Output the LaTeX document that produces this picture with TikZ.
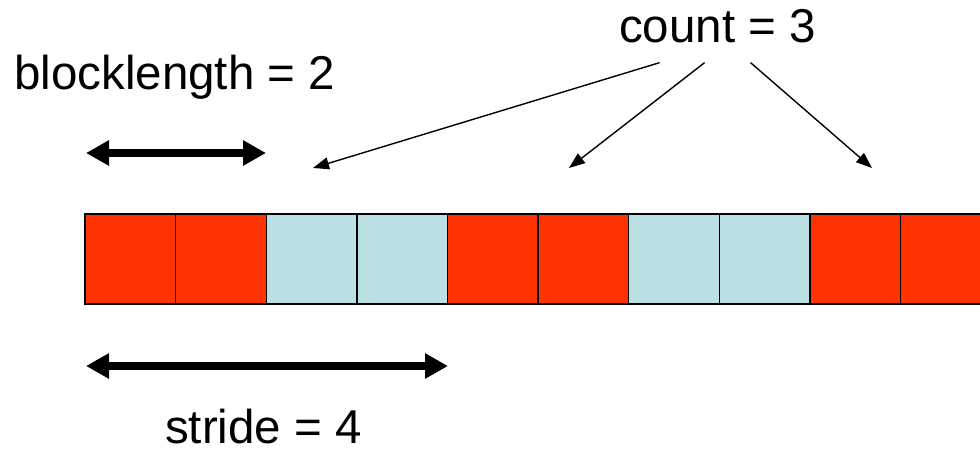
\documentclass[tikz,border=0pt]{standalone}
\usepackage{fontspec}
\setmainfont{Liberation Sans}
\usetikzlibrary{arrows.meta}
\definecolor{cellred}{HTML}{FF3300}
\definecolor{cellblue}{HTML}{BBE0E3}
\tikzset{
	span/.style={line width=7.5pt, {Triangle[length=23pt,width=24pt]}-{Triangle[length=23pt,width=24pt]}},
	pointer/.style={line width=1.4pt, -{Triangle[length=16pt,width=12pt]}},
	bigtext/.style={font=\fontsize{47.5}{52}\selectfont, inner sep=0pt, anchor=base west},
	cell/.style={draw=black, line width=1.4pt},
}

\begin{document}
\begin{tikzpicture}[x=1pt, y=-1pt]
		%%%%% START %%%%%
		\clip (0, 0) rectangle (980, 455);
		
		\node[bigtext] (count) at (619, 42) {count = 3};
		\node[bigtext] (blocklength) at (14, 89) {blocklength = 2};
		\node[bigtext] (stride) at (165, 443) {stride = 4};
		
		\foreach \i/\c in {0/cellred, 1/cellred, 2/cellblue, 3/cellblue, 4/cellred, 5/cellred, 6/cellblue, 7/cellblue, 8/cellred, 9/cellred}
			\draw[cell, fill=\c] ({85 + 90.6*\i}, 214) rectangle ({85 + 90.6*(\i+1)}, 304);
		
		\coordinate (blockL) at (86, 153);
		\coordinate (blockR) at (266, 153);
		\draw[span] (blockL) -- (blockR);
		
		\coordinate (strideL) at (86, 366);
		\coordinate (strideR) at (448, 366);
		\draw[span] (strideL) -- (strideR);
		
		\coordinate (tipA) at (313, 168);
		\coordinate (tipB) at (569, 168);
		\coordinate (tipC) at (872, 168);
		\draw[pointer] (count.south) ++(-58, 20) -- (tipA);
		\draw[pointer] (count.south) ++(-13, 20) -- (tipB);
		\draw[pointer] (count.south) ++(33, 20) -- (tipC);
		%%%%% END %%%%%
	\end{tikzpicture}
\end{document}
